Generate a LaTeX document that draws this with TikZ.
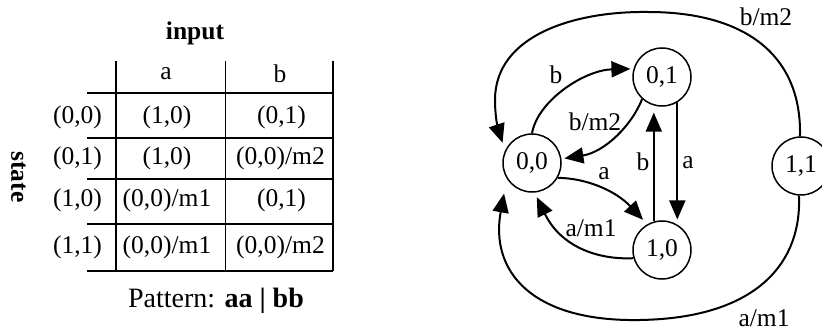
\documentclass[tikz,border=0pt]{standalone}
\usepackage{fontspec}
\setmainfont{Liberation Serif}
\usetikzlibrary{arrows.meta}
\begin{document}
\begin{tikzpicture}[x=1pt,y=-1pt,
  txt/.style={inner sep=0pt, font=\fontsize{25.5}{30}\selectfont},
  bigtxt/.style={inner sep=0pt, font=\fontsize{28}{32}\selectfont},
  tabline/.style={line width=1.5pt},
  stnode/.style={circle, draw, line width=1.5pt, minimum size=58pt, inner sep=0pt,
                 font=\fontsize{25.5}{30}\selectfont},
  trans/.style={line width=2pt, -{Triangle[length=19pt,width=16pt]}},
  vtrans/.style={line width=1.8pt, -{Triangle[length=19pt,width=16pt]}}
]
\clip (0,0) rectangle (822,331);

% ---------- state table ----------
\node[txt, font=\fontsize{25.5}{30}\selectfont\bfseries] (hin) at (195,33) {input};
\node[txt, font=\fontsize{25.5}{30}\selectfont\bfseries, rotate=-90] (hst) at (18.5,177) {state};

\draw[tabline] (116,61) -- (116,271);
\draw[tabline] (225.7,61) -- (225.7,271);
\draw[tabline] (333,61) -- (333,271);
\foreach \yy in {93,138,179,224,271}
  \draw[tabline] (87,\yy) -- (333,\yy);

\node[txt] (ha) at (166,74) {a};
\node[txt] (hb) at (280,74) {b};

\node[txt] (r1) at (77.5,117) {(0,0)};
\node[txt] (r2) at (77.5,158.5) {(0,1)};
\node[txt] (r3) at (77.5,200) {(1,0)};
\node[txt] (r4) at (77.5,247) {(1,1)};

\node[txt] (c1a) at (167,117) {(1,0)};
\node[txt] (c1b) at (281.5,117) {(0,1)};
\node[txt] (c2a) at (167,158.5) {(1,0)};
\node[txt] (c2b) at (280.5,158.5) {(0,0)/m2};
\node[txt] (c3a) at (167,200) {(0,0)/m1};
\node[txt] (c3b) at (281.5,200) {(0,1)};
\node[txt] (c4a) at (167,247) {(0,0)/m1};
\node[txt] (c4b) at (280.5,247) {(0,0)/m2};

\node[bigtxt] (pat) at (216,301) {Pattern: \textbf{aa | bb}};

% ---------- state diagram ----------
\node[stnode] (s00) at (532,163) {0,0};
\node[stnode] (s01) at (662,77) {0,1};
\node[stnode] (s10) at (662,250) {1,0};
\node[stnode] (s11) at (801,166) {1,1};

% inner transitions
\draw[trans, shorten >=3pt] (s00.90) .. controls (538,100) and (585,70) .. (s01.164);
\draw[trans, shorten >=3pt] (s01.228) .. controls (632,125) and (605,152) .. (s00.8);
\draw[trans, shorten >=6pt] (s00.330) .. controls (585,178) and (615,190) .. (s10.120);
\draw[trans, shorten >=5pt] (s10.196) .. controls (595,260) and (560,245) .. (s00.275);
\draw[vtrans, shorten >=7pt] (s10.106) -- (s01.254);
\draw[vtrans, shorten >=5pt] (s01.301) -- (s10.59);

\node[txt] (lb1) at (556,75) {b};
\node[txt] (lb2) at (595,122) {b/m2};
\node[txt] (la1) at (604,174) {a};
\node[txt] (la2) at (591,228) {a/m1};
\node[txt] (lb3) at (643,162) {b};
\node[txt] (la3) at (688,163) {a};

% outer transitions from (1,1)
\draw[trans, shorten >=8pt] (s11.92) .. controls (802,55) and (745,12) .. (648,12)
      .. controls (575,11) and (495,35) .. (495,100)
      .. controls (495,122) and (500,135) .. (s00.155);
\draw[trans, shorten >=15pt] (s11.266) .. controls (802,260) and (760,318) .. (640,320)
      .. controls (530,322) and (490,270) .. (s00.212);

\node[txt] (lb4) at (766,17) {b/m2};
\node[txt] (la4) at (764,318) {a/m1};
\end{tikzpicture}
\end{document}
